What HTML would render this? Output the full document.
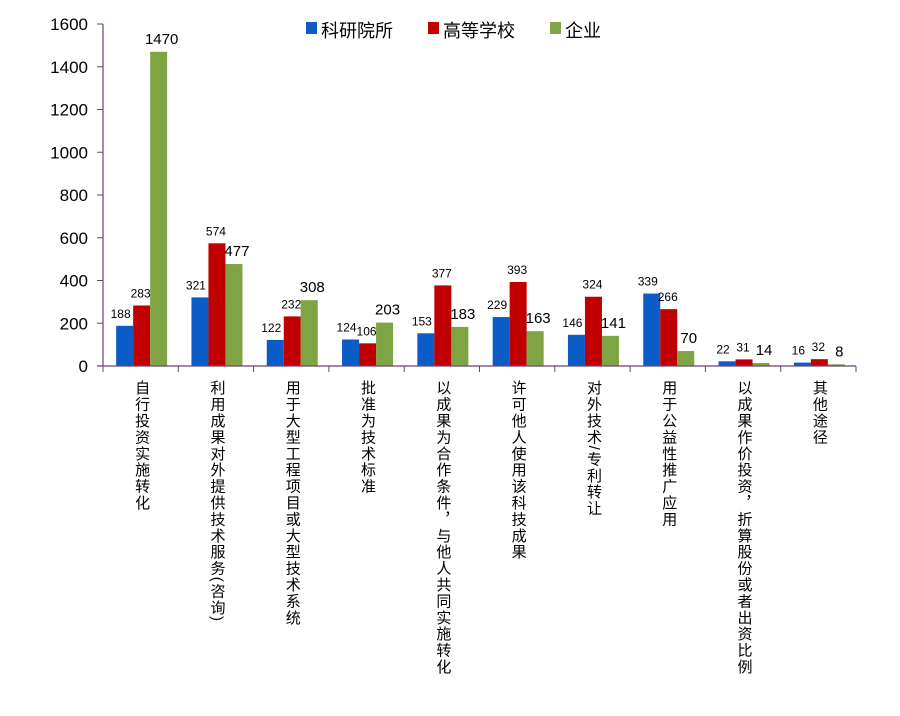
<!DOCTYPE html>
<html><head><meta charset="utf-8"><style>
body{margin:0;background:#fff;}
svg text{font-family:"Liberation Sans","Noto Sans CJK SC",sans-serif;}
</style></head><body>
<svg id="chart" width="900" height="711" xmlns="http://www.w3.org/2000/svg">
<g id="legend">
 <rect x="306" y="22" width="11" height="12" fill="#0b5cc6"/>
 <text x="321" y="37" font-size="18" fill="#000">科研院所</text>
 <rect x="428" y="22" width="11" height="12" fill="#c00000"/>
 <text x="443" y="37" font-size="18" fill="#000">高等学校</text>
 <rect x="550" y="22" width="11" height="12" fill="#7ea444"/>
 <text x="565" y="37" font-size="18" fill="#000">企业</text>
</g>
<g id="plot"></g>
</svg>
<script>
const categories=["自行投资实施转化","利用成果对外提供技术服务(咨询)","用于大型工程项目或大型技术系统","批准为技术标准","以成果为合作条件，与他人共同实施转化","许可他人使用该科技成果","对外技术/专利转让","用于公益性推广应用","以成果作价投资，折算股份或者出资比例","其他途径"];
const research=[188,321,122,124,153,229,146,339,22,16];
const university=[283,574,232,106,377,393,324,266,31,32];
const enterprise=[1470,477,308,203,183,163,141,70,14,8];
const yTicks=[0,200,400,600,800,1000,1200,1400,1600];

const NS="http://www.w3.org/2000/svg";
const g=document.getElementById('plot');
const x0=103,x1=856,y0=366,yTop=24,yMax=1600;
const bandW=(x1-x0)/categories.length;
const y=v=>y0-(v/yMax)*(y0-yTop);
const bx=i=>x0+i*bandW+bandW/2;
function el(t,a){const e=document.createElementNS(NS,t);for(const k in a)e.setAttribute(k,a[k]);g.appendChild(e);return e;}
const axisC="#6b4470";
let ax=el('line',{x1:x0,y1:yTop,x2:x0,y2:y0,stroke:axisC,'stroke-width':1.2});


yTicks.forEach(v=>{
 const t=el('line',{x1:x0-6,y1:y(v),x2:x0,y2:y(v),stroke:axisC,'stroke-width':1});
 
 
 const l=el('text',{x:x0-15,y:y(v)+6,'font-size':17,'text-anchor':'end',fill:'#000'});
 l.textContent=v;
 
 
});
const series=[[research,'#0b5cc6','research',-4,12],[university,'#c00000','university',-1,12],[enterprise,'#7ea444','enterprise',3,15]];
const bw=17;
const labels=[];
categories.forEach((c,i)=>{
 const cx=bx(i)+1;
 series.forEach((s,j)=>{
  const v=s[0][i];
  const left=cx-25.5+j*bw;
  const r=el('rect',{x:left,y:y(v),width:bw,height:y0-y(v),fill:s[1]});
  
  
  labels.push([left+bw/2+s[3],y(v)-8,s[4],v,s[2]]);
 });
 const lab=el('text',{x:cx,y:380,'font-size':15,fill:'#000','letter-spacing':'1.4',style:'writing-mode:vertical-rl;glyph-orientation-vertical:0'});
 lab.textContent=c;
 
 
});
labels.forEach(L=>{
 const t=el('text',{x:L[0],y:L[1],'font-size':L[2],'text-anchor':'middle',fill:'#000'});
 t.textContent=L[3];
 
 
});
let xa=el('line',{x1:x0-6,y1:y0,x2:x1,y2:y0,stroke:axisC,'stroke-width':1.2});


for(let i=0;i<=categories.length;i++){
 const t=el('line',{x1:x0+i*bandW,y1:y0,x2:x0+i*bandW,y2:y0+6,stroke:axisC,'stroke-width':1});
 
 
}
</script>
</body></html>
